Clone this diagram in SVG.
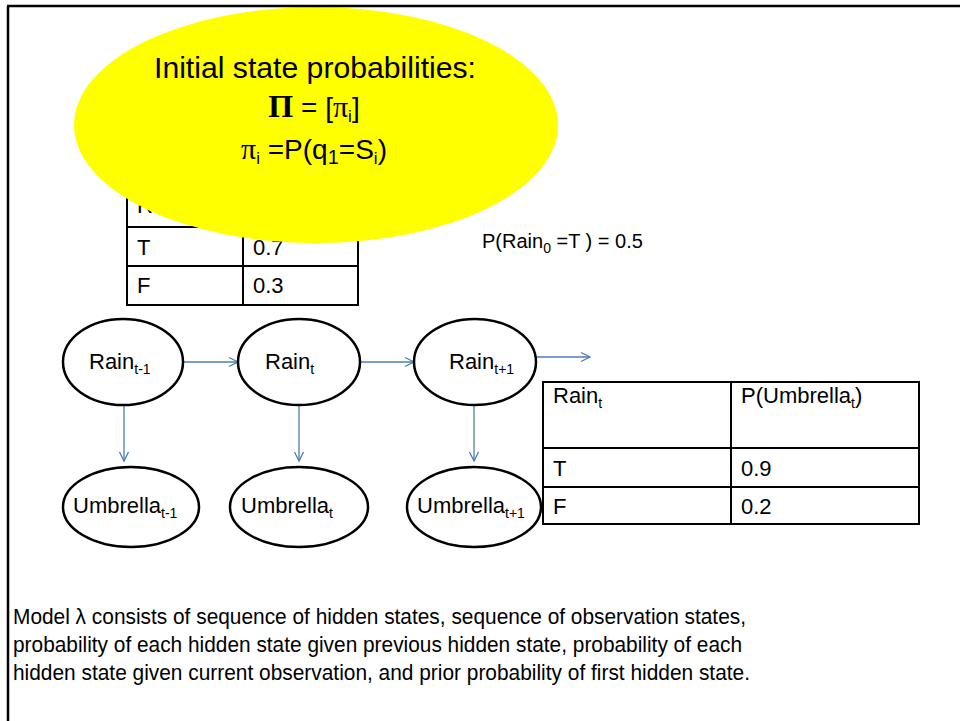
<svg xmlns="http://www.w3.org/2000/svg" width="960" height="721" viewBox="0 0 960 721">
<defs>
<style>
text{font-family:"Liberation Sans",Arial,sans-serif;fill:#000}
.t{font-size:22px}
.s{font-size:14px}
.node{fill:#fff;stroke:#000;stroke-width:2.5}
.cell{fill:none;stroke:#000;stroke-width:2}
.conn{fill:none;stroke:#4a7ebb;stroke-width:1.3;marker-end:url(#arr)}
.math{font-family:"Liberation Serif","DejaVu Serif",serif}
</style>
<marker id="arr" markerWidth="12" markerHeight="12" refX="10" refY="6" orient="auto" markerUnits="userSpaceOnUse">
<path d="M1,1.5 L10,6 L1,10.5" fill="none" stroke="#4a7ebb" stroke-width="1.3"/>
</marker>
</defs>
<rect x="0" y="0" width="960" height="721" fill="#fff"/>

<g id="prior-table">
<text class="t" x="137" y="213">Rain</text>
<rect class="cell" x="127" y="187" width="231" height="118"/>
<line class="cell" x1="127" y1="227" x2="358" y2="227"/>
<line class="cell" x1="127" y1="266" x2="358" y2="266"/>
<line class="cell" x1="243" y1="187" x2="243" y2="305"/>
<text class="t" x="137" y="255">T</text>
<text class="t" x="253" y="255">0.7</text>
<text class="t" x="137" y="293">F</text>
<text class="t" x="253" y="293">0.3</text>
</g>

<g id="initial-callout">
<ellipse cx="316" cy="125" rx="242" ry="118" fill="#ffff00"/>
<text x="315" y="78" font-size="30" text-anchor="middle" textLength="322" lengthAdjust="spacingAndGlyphs">Initial state probabilities:</text>
<text x="314" y="117" font-size="28" text-anchor="middle"><tspan class="math" font-weight="bold" font-size="32">Π</tspan> = [<tspan class="math" font-size="30">π</tspan><tspan font-size="17" dy="5">i</tspan><tspan dy="-5">]</tspan></text>
<text x="314" y="159" font-size="28" text-anchor="middle"><tspan class="math" font-size="30">π</tspan><tspan font-size="17" dy="5">i</tspan><tspan dy="-5"> =P(q</tspan><tspan font-size="20" dy="5">1</tspan><tspan dy="-5">=S</tspan><tspan font-size="17" dy="5">i</tspan><tspan dy="-5">)</tspan></text>
</g>

<g id="prior-label">
<text x="482" y="248" style="font-size:20px">P(Rain<tspan class="s" dy="5">0</tspan><tspan dy="-5"> =T ) = 0.5</tspan></text>
</g>

<g id="connectors">
<path class="conn" d="M183,362 H238"/>
<path class="conn" d="M360,362 H414"/>
<path class="conn" d="M536,357 H590"/>
<path class="conn" d="M124,405 V461"/>
<path class="conn" d="M299,405 V461"/>
<path class="conn" d="M474,405 V461"/>
</g>

<g id="rain-t-1">
<ellipse class="node" cx="123" cy="362" rx="60" ry="43"/>
<text class="t" x="89" y="369">Rain<tspan class="s" dy="5">t-1</tspan></text>
</g>
<g id="rain-t">
<ellipse class="node" cx="299" cy="362" rx="61" ry="43"/>
<text class="t" x="265" y="369">Rain<tspan class="s" dy="5">t</tspan></text>
</g>
<g id="rain-t+1">
<ellipse class="node" cx="475" cy="362" rx="61" ry="43"/>
<text class="t" x="449" y="369">Rain<tspan class="s" dy="5">t+1</tspan></text>
</g>
<g id="umbrella-t-1">
<ellipse class="node" cx="131" cy="507" rx="68" ry="40"/>
<text class="t" x="73" y="513">Umbrella<tspan class="s" dy="5">t-1</tspan></text>
</g>
<g id="umbrella-t">
<ellipse class="node" cx="299" cy="507" rx="69" ry="40"/>
<text class="t" x="241" y="513">Umbrella<tspan class="s" dy="5">t</tspan></text>
</g>
<g id="umbrella-t+1">
<ellipse class="node" cx="474" cy="507" rx="67" ry="40"/>
<text class="t" x="417" y="513">Umbrella<tspan class="s" dy="5">t+1</tspan></text>
</g>

<g id="sensor-table">
<rect x="543" y="382" width="376" height="142" fill="#fff"/>
<rect class="cell" x="543" y="382" width="376" height="142"/>
<line class="cell" x1="543" y1="448" x2="919" y2="448"/>
<line class="cell" x1="543" y1="487" x2="919" y2="487"/>
<line class="cell" x1="731" y1="382" x2="731" y2="524"/>
<text class="t" x="553" y="403">Rain<tspan class="s" dy="5">t</tspan></text>
<text class="t" x="741" y="403">P(Umbrella<tspan class="s" dy="5">t</tspan><tspan dy="-5">)</tspan></text>
<text class="t" x="553" y="476">T</text>
<text class="t" x="741" y="476">0.9</text>
<text class="t" x="553" y="514">F</text>
<text class="t" x="741" y="514">0.2</text>
</g>

<g id="description">
<text class="t" x="13" y="624" textLength="733" lengthAdjust="spacingAndGlyphs">Model λ consists of sequence of hidden states,  sequence of observation states,</text>
<text class="t" x="13" y="652" textLength="729" lengthAdjust="spacingAndGlyphs">probability of each hidden state given previous hidden state, probability of each</text>
<text class="t" x="13" y="680" textLength="737" lengthAdjust="spacingAndGlyphs">hidden state given current observation, and prior probability of first hidden state.</text>
</g>

<g id="frame">
<line x1="7" y1="6" x2="960" y2="6" stroke="#000" stroke-width="2.5"/>
<line x1="8" y1="6" x2="8" y2="721" stroke="#000" stroke-width="2.5"/>
</g>
</svg>
